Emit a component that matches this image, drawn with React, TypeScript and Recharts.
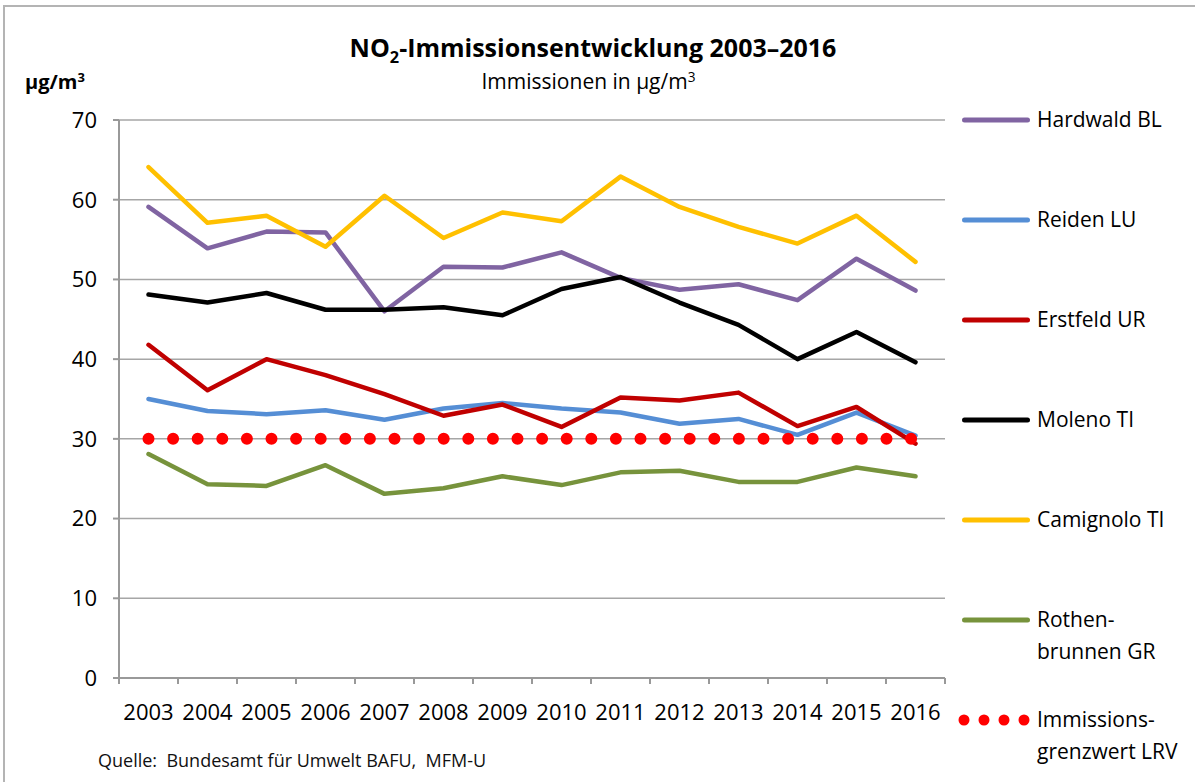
import { LineChart, Line, XAxis, YAxis, CartesianGrid, Legend } from 'recharts';

const years = [2003, 2004, 2005, 2006, 2007, 2008, 2009, 2010, 2011, 2012, 2013, 2014, 2015, 2016];
const hardwald = [59.1, 53.9, 56.0, 55.9, 46.0, 51.6, 51.5, 53.4, 50.2, 48.7, 49.4, 47.4, 52.6, 48.6];
const reiden = [35.0, 33.5, 33.1, 33.6, 32.4, 33.8, 34.5, 33.8, 33.3, 31.9, 32.5, 30.5, 33.3, 30.4];
const erstfeld = [41.8, 36.1, 40.0, 38.0, 35.6, 32.9, 34.3, 31.5, 35.2, 34.8, 35.8, 31.6, 34.0, 29.4];
const moleno = [48.1, 47.1, 48.3, 46.2, 46.2, 46.5, 45.5, 48.8, 50.3, 47.1, 44.3, 40.0, 43.4, 39.6];
const camignolo = [64.1, 57.1, 58.0, 54.1, 60.5, 55.2, 58.4, 57.3, 62.9, 59.1, 56.6, 54.5, 58.0, 52.2];
const rothenbrunnen = [28.1, 24.3, 24.1, 26.7, 23.1, 23.8, 25.3, 24.2, 25.8, 26.0, 24.6, 24.6, 26.4, 25.3];
const grenzwert = [30, 30, 30, 30, 30, 30, 30, 30, 30, 30, 30, 30, 30, 30];
const yTicks = [0, 10, 20, 30, 40, 50, 60, 70];

// legend order as in the original
const seriesOrder = ['hardwald', 'reiden', 'erstfeld', 'moleno', 'camignolo', 'rothenbrunnen', 'grenzwert'];

const data = years.map((year, i) => ({
  year,
  hardwald: hardwald[i],
  reiden: reiden[i],
  erstfeld: erstfeld[i],
  moleno: moleno[i],
  camignolo: camignolo[i],
  rothenbrunnen: rothenbrunnen[i],
  grenzwert: grenzwert[i],
}));

// year labels at the centres, small tick marks at the category borders
const xTicks = years.flatMap((y) => [y - 0.5, y]).concat(years[years.length - 1] + 0.5);

const FONT = "'Open Sans', sans-serif";
const AXIS = '#999999';

function YearTick({ x, y, payload }: any) {
  const v = payload.value;
  if (!Number.isInteger(v)) {
    return <line x1={x} x2={x} y1={y} y2={y + 6} stroke={AXIS} strokeWidth={2} />;
  }
  return (
    <text x={x} y={y + 26} dy="0.71em" textAnchor="middle" fontSize={22} fill="#000" fontFamily={FONT}>
      {v}
    </text>
  );
}

function LegendContent({ payload }: any) {
  const items = [...(payload || [])].sort(
    (a: any, b: any) => seriesOrder.indexOf(a.dataKey) - seriesOrder.indexOf(b.dataKey)
  );
  return (
    <div style={{ fontFamily: FONT, fontSize: 21, color: '#000' }}>
      {items.map((entry: any) => (
        <div key={entry.dataKey} style={{ position: 'relative', height: 100 }}>
          <svg width={78} height={16} style={{ position: 'absolute', left: 2, top: 9 }}>
            {entry.dataKey === 'grenzwert' ? (
              <line x1={7} x2={68.5} y1={8} y2={8} stroke={entry.color} strokeWidth={11}
                strokeDasharray="0 20" strokeLinecap="round" />
            ) : (
              <line x1={7.5} x2={70.5} y1={8} y2={8} stroke={entry.color} strokeWidth={5}
                strokeLinecap="round" />
            )}
          </svg>
          <div style={{ position: 'absolute', left: 82, top: 0, lineHeight: '32px', whiteSpace: 'pre-line' }}>
            {entry.value}
          </div>
        </div>
      ))}
    </div>
  );
}

export default function App() {
  const lineProps = {
    type: 'linear' as const,
    dot: false,
    activeDot: false,
    strokeWidth: 4.5,
    strokeLinejoin: 'round' as const,
    strokeLinecap: 'round' as const,
    isAnimationActive: false,
  };
  return (
    <div style={{ position: 'absolute', left: 0, top: 0, width: 1195, height: 782, background: '#fff', overflow: 'hidden' }}>
      <div style={{ position: 'absolute', left: 3, top: 5, width: 1200, height: 800, borderTop: '2px solid #b4b4b4', borderLeft: '2px solid #b4b4b4' }} />

      <div style={{ position: 'absolute', left: 0, top: 35, width: 1186, textAlign: 'center', fontFamily: FONT, fontWeight: 700, fontSize: 25, lineHeight: '25px', color: '#000' }}>
        NO<span style={{ fontSize: '0.65em', position: 'relative', top: '0.35em', lineHeight: 0 }}>2</span>-Immissionsentwicklung 2003–2016
      </div>
      <div style={{ position: 'absolute', left: 0, top: 71, width: 1177, textAlign: 'center', fontFamily: FONT, fontSize: 21, lineHeight: '21px', color: '#000' }}>
        Immissionen in µg/m<span style={{ fontSize: '0.65em', position: 'relative', top: '-0.55em', lineHeight: 0 }}>3</span>
      </div>
      <div style={{ position: 'absolute', left: 25, top: 72, fontFamily: FONT, fontWeight: 700, fontSize: 20, lineHeight: '20px', color: '#000' }}>
        µg/m<span style={{ fontSize: '0.65em', position: 'relative', top: '-0.55em', lineHeight: 0 }}>3</span>
      </div>

      <LineChart width={1195} height={782} data={data} margin={{ top: 120, right: 250, bottom: 64, left: 0 }}>
        <CartesianGrid horizontal vertical={false} stroke="#a6a6a6" strokeWidth={1.5} />
        <XAxis
          dataKey="year"
          type="number"
          domain={[2002.5, 2016.5]}
          ticks={xTicks}
          interval={0}
          height={40}
          tickSize={0}
          tickMargin={0}
          tickLine={false}
          axisLine={{ stroke: AXIS, strokeWidth: 2 }}
          tick={<YearTick />}
        />
        <YAxis
          type="number"
          domain={[0, 70]}
          ticks={yTicks}
          width={119}
          tickSize={6}
          tickMargin={16}
          tickLine={{ stroke: AXIS, strokeWidth: 2 }}
          axisLine={{ stroke: AXIS, strokeWidth: 2 }}
          tick={{ fontSize: 22, fill: '#000', fontFamily: FONT }}
        />
        <Legend
          layout="vertical"
          align="center"
          verticalAlign="middle"
          wrapperStyle={{ left: 955, top: 103, width: 240 }}
          content={<LegendContent />}
        />
        <Line {...lineProps} dataKey="hardwald" name="Hardwald BL" stroke="#8064A2" />
        <Line {...lineProps} dataKey="reiden" name="Reiden LU" stroke="#558ED5" />
        <Line {...lineProps} dataKey="erstfeld" name="Erstfeld UR" stroke="#C00000" />
        <Line {...lineProps} dataKey="moleno" name="Moleno TI" stroke="#000000" />
        <Line {...lineProps} dataKey="camignolo" name="Camignolo TI" stroke="#FFC000" />
        <Line {...lineProps} dataKey="rothenbrunnen" name={'Rothen-\nbrunnen GR'} stroke="#77933C" />
        <Line
          type="linear"
          dataKey="grenzwert"
          name={'Immissions-\ngrenzwert LRV'}
          stroke="#FF0000"
          strokeWidth={12}
          strokeDasharray="0 24.6"
          strokeLinecap="round"
          dot={false}
          activeDot={false}
          isAnimationActive={false}
        />
      </LineChart>

      <div style={{ position: 'absolute', left: 98, top: 749, fontFamily: FONT, fontSize: 18, lineHeight: '22px', color: '#111', whiteSpace: 'pre' }}>
        Quelle:  Bundesamt für Umwelt BAFU,  MFM-U
      </div>
    </div>
  );
}
